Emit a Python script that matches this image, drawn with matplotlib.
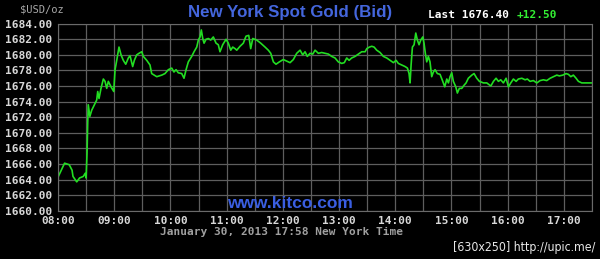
import matplotlib
matplotlib.use("Agg")
import matplotlib.pyplot as plt
import numpy as np

# minutes after 08:00 and bid price
minutes = [0, 7, 12, 15, 16, 20, 23, 27, 29, 30, 31, 31.7, 32.3, 34, 36, 38.8, 41.3, 42.4,
           43.8, 45.9, 48.4, 50.2, 52, 53.7, 56.6, 59.5, 60.9, 62.7, 65.1, 67.3, 69.7, 72.3,
           75.1, 76.9, 79.7, 81.5, 84, 86.5, 89.4, 91.1, 94.7, 98.2, 100, 105.4, 110.7, 114.2,
           117.8, 121.4, 123.8, 126, 128.4, 132.1, 134.5, 136.7, 139.1, 142.7, 145.2, 148.1,
           149.8, 151.6, 153, 154.5, 155.9, 158, 160.5, 163, 165.8, 168.7, 171.1, 172.9, 175.8,
           179.4, 181.8, 184.4, 186.5, 189, 190.8, 194.3, 197.8, 200.7, 203.6, 205.7, 207.9,
           212.1, 216.4, 221, 224.5, 227.1, 229.9, 232.7, 236.3, 240.5, 244.2, 247.7, 251.2,
           254.8, 258.4, 261.2, 263.7, 266.1, 269, 271.9, 274.4, 277.9, 281.5, 285, 288.6,
           292.2, 295.7, 299.2, 302.9, 305.6, 308.2, 310.7, 313.5, 317.1, 320.6, 324.2, 327.8,
           329.6, 332.4, 334.9, 337.4, 340.2, 343.8, 347.3, 350.9, 354.4, 358, 360.9, 363.3,
           366.9, 370.5, 373, 374.7, 375.8, 376.9, 378.3, 380.1, 381.9, 383.6, 385.4, 387.2,
           389.4, 390.7, 392.1, 393.6, 395.3, 397.1, 398.9, 400.7, 402.5, 404.9, 407.8, 410.7,
           412.8, 415, 416.7, 418.5, 420.3, 422, 424.6, 426.3, 428.4, 431, 433.4, 435.6, 438,
           441.7, 444.1, 447, 449.8, 454.1, 457.7, 462, 464.8, 467.6, 470.1, 472.6, 475.4,
           478.3, 480.8, 483.3, 486.1, 489, 491.4, 495.1, 498.6, 501, 503.9, 507.4, 511.1,
           514.6, 518.1, 521.7, 525.3, 528.8, 532.4, 535.2, 538.8, 542.3, 544.8, 547.4, 550.1,
           553, 555.5, 559.1, 569.8]
price = [1664.3, 1666.1, 1665.9, 1665.2, 1664.4, 1663.7, 1664.2, 1664.4, 1664.8, 1664.2,
         1667.4, 1671.2, 1673.6, 1672.1, 1672.9, 1673.6, 1674.2, 1675.3, 1674.4, 1675.7,
         1676.9, 1676.6, 1675.7, 1676.6, 1675.9, 1675.3, 1678.1, 1679.3, 1681.0, 1680.0,
         1679.3, 1678.8, 1679.6, 1679.9, 1678.5, 1679.3, 1680.0, 1680.2, 1680.4, 1679.8,
         1679.3, 1678.7, 1677.6, 1677.2, 1677.4, 1677.6, 1678.1, 1678.3, 1677.8, 1678.1,
         1677.7, 1677.6, 1677.0, 1678.1, 1679.1, 1679.8, 1680.4, 1681.0, 1681.9, 1682.3,
         1683.2, 1682.1, 1681.5, 1682.0, 1682.1, 1681.9, 1682.3, 1681.5, 1681.3, 1680.4,
         1681.3, 1682.0, 1681.5, 1680.6, 1681.0, 1680.8, 1680.6, 1681.1, 1681.5, 1682.4,
         1682.5, 1680.8, 1682.1, 1681.9, 1681.5, 1681.0, 1680.6, 1680.2, 1679.1, 1678.8,
         1679.1, 1679.4, 1679.2, 1679.0, 1679.4, 1680.2, 1680.6, 1680.0, 1680.4, 1679.8,
         1680.2, 1680.1, 1680.6, 1680.2, 1680.3, 1680.2, 1680.1, 1679.8, 1679.6, 1679.1,
         1678.9, 1679.0, 1679.6, 1679.3, 1679.6, 1679.8, 1680.1, 1680.4, 1680.4, 1680.8,
         1681.0, 1681.1, 1681.0, 1680.6, 1680.3, 1679.8, 1679.6, 1679.3, 1679.0, 1679.3,
         1678.9, 1678.7, 1678.5, 1678.3, 1677.6, 1676.4, 1678.7, 1681.0, 1681.3, 1682.8,
         1681.9, 1681.3, 1681.9, 1682.3, 1681.5, 1680.2, 1679.1, 1679.8, 1679.1, 1677.2,
         1677.8, 1678.1, 1677.6, 1677.5, 1676.6, 1675.9, 1676.9, 1676.4, 1677.2, 1677.7,
         1676.6, 1675.9, 1675.1, 1675.7, 1675.7, 1676.1, 1676.4, 1677.0, 1677.4, 1677.6,
         1677.0, 1676.6, 1676.4, 1676.4, 1676.0, 1676.6, 1677.0, 1676.6, 1676.8, 1676.4,
         1677.0, 1675.9, 1676.4, 1676.9, 1676.6, 1676.9, 1677.0, 1676.8, 1676.9, 1676.6,
         1676.7, 1676.4, 1676.7, 1676.8, 1676.7, 1677.0, 1677.2, 1677.4, 1677.3, 1677.4,
         1677.6, 1677.5, 1677.2, 1677.4, 1677.0, 1676.6, 1676.4, 1676.4]

hour_labels = ["08:00", "09:00", "10:00", "11:00", "12:00", "13:00", "14:00", "15:00",
               "16:00", "17:00"]
y_ticks = list(range(1660, 1686, 2))

mono = "DejaVu Sans Mono"
sans = "Liberation Sans"

fig = plt.figure(figsize=(6.0, 2.59), dpi=100, facecolor="black")
ax = fig.add_axes([58 / 600, 1 - 210.7 / 259, 534 / 600, 187 / 259])
ax.set_facecolor("black")

ax.plot(minutes, price, color="#22dd22", lw=1.2)

ax.set_xlim(0, 570)
ax.set_ylim(1660, 1684)
ax.set_xticks(np.arange(0, 571, 30))
ax.set_xticklabels([hour_labels[i // 2] if i % 2 == 0 else "" for i in range(20)])
ax.set_yticks(y_ticks)
ax.set_yticklabels(["%.2f" % v for v in y_ticks])
ax.grid(True, color="#5e5e5e", lw=0.9)
ax.set_axisbelow(True)
for s in ax.spines.values():
    s.set_color("#6a6a6a")
ax.tick_params(length=0, colors="#d8d8d8", labelsize=8, pad=4)
for lab in ax.get_xticklabels() + ax.get_yticklabels():
    lab.set_family(mono)
    lab.set_weight("bold")

fig.text(290 / 600, 1 - 12 / 259, "New York Spot Gold (Bid)", color="#4466dd",
         fontsize=12.2, fontweight="bold", family=sans, ha="center", va="center")
fig.text(20 / 600, 1 - 10 / 259, "$USD/oz", color="#a8a8a8", fontsize=7.5,
         family=mono, ha="left", va="center")
fig.text(428 / 600, 1 - 15 / 259, "Last 1676.40", color="white", fontsize=8,
         fontweight="bold", family=mono, ha="left", va="center")
fig.text(517 / 600, 1 - 15 / 259, "+12.50", color="#33ee33", fontsize=8,
         fontweight="bold", family=mono, ha="left", va="center")
fig.text(290 / 600, 1 - 204 / 259, "www.kitco.com", color="#3a5ee0", fontsize=12.5,
         fontweight="bold", family=sans, ha="center", va="center")
fig.text(281 / 600, 1 - 232 / 259, "January 30, 2013 17:58 New York Time", color="#a0a0a0",
         fontsize=8, fontweight="bold", family=mono, ha="center", va="center")
fig.text(595 / 600, 1 - 248 / 259, "[630x250] http://upic.me/", color="#e8e8e8",
         fontsize=8.8, family="DejaVu Sans", stretch="condensed", ha="right", va="center")

fig.savefig("out.png", dpi=100, facecolor="black")
